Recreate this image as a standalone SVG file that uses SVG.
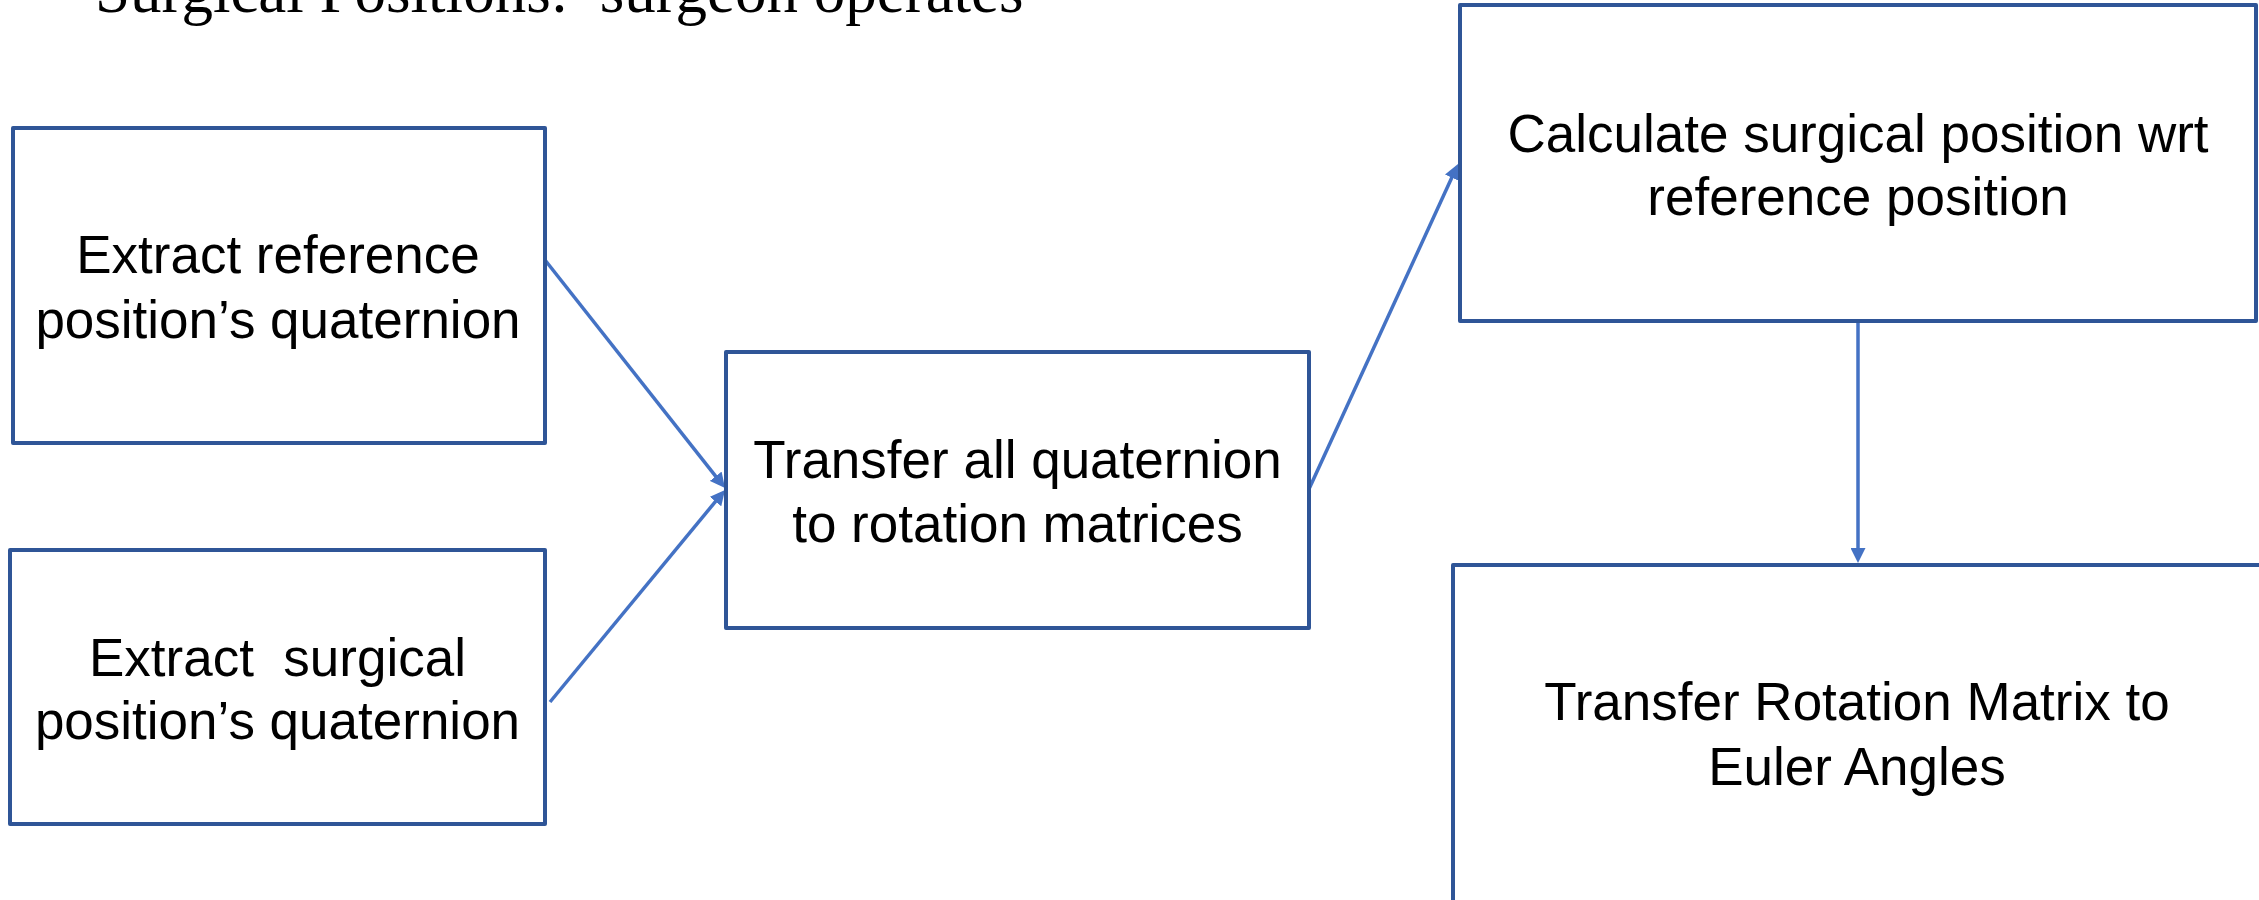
<svg xmlns="http://www.w3.org/2000/svg" width="2259" height="900" viewBox="0 0 2259 900">
<style>
.box{fill:#ffffff;stroke:#2F5597;stroke-width:4;stroke-linejoin:round}
.lbl{font-family:"Liberation Sans",Arial,sans-serif;font-size:53px;fill:#000000;text-anchor:middle;white-space:pre}
.title{font-family:"Liberation Serif","Times New Roman",serif;font-size:63px;fill:#000000;white-space:pre}
.conn{fill:none;stroke:#4472C4;stroke-width:3.5}
</style>
<defs>
<marker id="arr" viewBox="0 0 15 15" refX="9" refY="7.5" markerWidth="15" markerHeight="15" markerUnits="userSpaceOnUse" orient="auto">
<path d="M0,0 L15,7.5 L0,15 Z" fill="#4472C4"/>
</marker>
</defs>
<rect width="2259" height="900" fill="#ffffff"/>
<text class="title" x="95" y="12" xml:space="preserve">Surgical Positions:  surgeon operates</text>
<g id="connectors">
<path class="conn" d="M545,260 L721.3,483.3" marker-end="url(#arr)"/>
<path class="conn" d="M550,702 L721.2,494.6" marker-end="url(#arr)"/>
<path class="conn" d="M1309,489 L1455.5,169.5" marker-end="url(#arr)"/>
<path class="conn" d="M1858,323 L1858,557" marker-end="url(#arr)"/>
</g>
<g id="node-ref">
<rect class="box" x="13" y="128" width="532" height="315"/>
<text class="lbl" x="278" y="273">Extract reference</text>
<text class="lbl" x="278" y="338">position’s quaternion</text>
</g>
<g id="node-surg">
<rect class="box" x="10" y="550" width="535" height="274"/>
<text class="lbl" x="277.5" y="676" xml:space="preserve">Extract  surgical</text>
<text class="lbl" x="277.5" y="739">position’s quaternion</text>
</g>
<g id="node-transfer">
<rect class="box" x="726" y="352" width="583" height="276"/>
<text class="lbl" x="1017.5" y="478">Transfer all quaternion</text>
<text class="lbl" x="1017.5" y="542">to rotation matrices</text>
</g>
<g id="node-calc">
<rect class="box" x="1460" y="5" width="796" height="316"/>
<text class="lbl" x="1858" y="152">Calculate surgical position wrt</text>
<text class="lbl" x="1858" y="215">reference position</text>
</g>
<g id="node-euler">
<rect class="box" x="1453" y="565" width="808" height="337"/>
<text class="lbl" x="1857" y="720">Transfer Rotation Matrix to</text>
<text class="lbl" x="1857" y="785">Euler Angles</text>
</g>
</svg>
